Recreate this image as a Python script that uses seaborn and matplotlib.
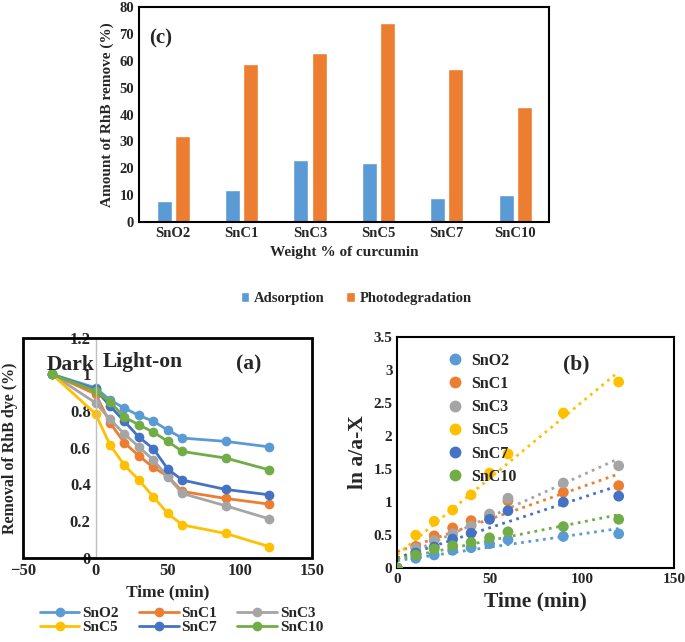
import numpy as np
import pandas as pd
import seaborn as sns
import matplotlib.pyplot as plt
from matplotlib.patches import Rectangle

# Datos de la figura
samples = ['SnO2', 'SnC1', 'SnC3', 'SnC5', 'SnC7', 'SnC10']
colors = ['#5B9BD5', '#ED7D31', '#A5A5A5', '#FFC000', '#4472C4', '#70AD47']

# (c) porcentaje removido
adsorption = [8, 12, 23, 22, 9, 10]
photodeg = [32, 59, 63, 74, 57, 43]

# (a) C/C0 vs tiempo
time_a = [-30, 0, 10, 20, 30, 40, 50, 60, 90, 120]
rem_SnO2 = [1.0, 0.927, 0.86, 0.816, 0.776, 0.745, 0.696, 0.653, 0.635, 0.605]
rem_SnC1 = [1.0, 0.893, 0.736, 0.627, 0.556, 0.493, 0.445, 0.362, 0.324, 0.293]
rem_SnC3 = [1.0, 0.845, 0.755, 0.675, 0.605, 0.533, 0.442, 0.351, 0.284, 0.213]
rem_SnC5 = [1.0, 0.785, 0.615, 0.505, 0.424, 0.333, 0.242, 0.18, 0.133, 0.062]
rem_SnC7 = [1.0, 0.918, 0.827, 0.744, 0.658, 0.595, 0.484, 0.424, 0.373, 0.344]
rem_SnC10 = [1.0, 0.91, 0.85, 0.767, 0.725, 0.685, 0.635, 0.58, 0.544, 0.48]

# (b) ln a/(a-x) vs tiempo
time_b = [0, 10, 20, 30, 40, 50, 60, 90, 120]
ln_SnO2 = [0, 0.15, 0.2, 0.27, 0.31, 0.37, 0.43, 0.48, 0.52]
ln_SnC1 = [0, 0.33, 0.49, 0.61, 0.72, 0.8, 1.02, 1.15, 1.25]
ln_SnC3 = [0, 0.30, 0.42, 0.52, 0.64, 0.82, 1.06, 1.29, 1.55]
ln_SnC5 = [0, 0.5, 0.71, 0.88, 1.11, 1.44, 1.73, 2.35, 2.82]
ln_SnC7 = [0, 0.23, 0.32, 0.44, 0.53, 0.74, 0.87, 1.0, 1.09]
ln_SnC10 = [0, 0.2, 0.29, 0.34, 0.39, 0.46, 0.55, 0.63, 0.74]

rem_all = [rem_SnO2, rem_SnC1, rem_SnC3, rem_SnC5, rem_SnC7, rem_SnC10]
ln_all = [ln_SnO2, ln_SnC1, ln_SnC3, ln_SnC5, ln_SnC7, ln_SnC10]

sns.set_style('white')
plt.rcParams['font.family'] = ['Liberation Serif', 'DejaVu Serif']
plt.rcParams['font.weight'] = 'bold'
plt.rcParams['axes.labelweight'] = 'bold'

fig = plt.figure(figsize=(6.85, 6.42), dpi=100)
pal = dict(zip(samples, colors))

# ---------- (c) barras ----------
axc = fig.add_axes([0.203, 0.654, 0.599, 0.335])
dfc = pd.DataFrame({
    'sample': samples * 2,
    'val': adsorption + photodeg,
    'kind': ['Adsorption'] * 6 + ['Photodegradation'] * 6,
})
sns.barplot(data=dfc, x='sample', y='val', hue='kind', palette=['#5B9BD5', '#ED7D31'],
            width=0.53, gap=0.17, ax=axc, saturation=1)
axc.set_ylim(0, 80)
axc.set_xlim(-0.5, 5.5)
axc.set_yticks(range(0, 81, 10))
axc.set_xlabel('Weight % of curcumin', fontsize=11)
axc.set_ylabel('Amount of RhB remove (%)', fontsize=11)
axc.tick_params(labelsize=10.5, length=0)
axc.text(0.025, 0.83, '(c)', transform=axc.transAxes, fontsize=15, fontweight='bold')
for s in axc.spines.values():
    s.set_color('black')
    s.set_linewidth(1.5)
axc.legend(loc='center', bbox_to_anchor=(0.52, 0.535), bbox_transform=fig.transFigure,
           ncol=2, frameon=False, fontsize=10.5, handlelength=0.6, handleheight=0.6,
           handletextpad=0.3, columnspacing=1.5)

# ---------- (a) lineas ----------
axa = fig.add_axes([0.034, 0.131, 0.422, 0.343])
dfa = pd.DataFrame({
    'time': time_a * 6,
    'val': sum(rem_all, []),
    'sample': [s for s in samples for _ in time_a],
})
sns.lineplot(data=dfa, x='time', y='val', hue='sample', hue_order=samples, palette=pal,
             marker='o', markersize=7, markeredgewidth=0, linewidth=2, ax=axa)
axa.set_xlim(-50, 150)
axa.set_ylim(0, 1.2)
axa.set_xticks([-50, 0, 50, 100, 150])
axa.set_yticks([0, 0.2, 0.4, 0.6, 0.8, 1, 1.2])
axa.set_yticklabels(['0', '0.2', '0.4', '0.6', '0.8', '1', '1.2'])
axa.tick_params(labelsize=12, length=0)
axa.set_xlabel('Time (min)', fontsize=12.5)
axa.set_ylabel('Removal of RhB dye (%)', fontsize=11.5)
axa.yaxis.set_label_coords(-0.02, 0.5)
for k in ['top', 'right', 'bottom']:
    axa.spines[k].set_visible(False)
axa.spines['left'].set_position(('data', 0))
axa.spines['left'].set_color('#BFBFBF')
axa.spines['left'].set_linewidth(1)
axa.add_patch(Rectangle((0, 0), 1, 1, transform=axa.transAxes, fill=False,
                        lw=2, ec='black', clip_on=False, zorder=5))
axa.text(-34, 1.025, 'Dark', fontsize=15.5, fontweight='bold')
axa.text(5, 1.04, 'Light-on', fontsize=15.5, fontweight='bold')
axa.text(97, 1.025, '(a)', fontsize=15.5, fontweight='bold')
h, l = axa.get_legend_handles_labels()
order = [0, 3, 1, 4, 2, 5]
axa.legend([h[i] for i in order], [l[i] for i in order], loc='center',
           bbox_to_anchor=(0.265, 0.034), bbox_transform=fig.transFigure,
           ncol=3, frameon=False, fontsize=11, handlelength=2.6, handletextpad=0.2,
           columnspacing=1.3, labelspacing=0.0)

# ---------- (b) cinetica ----------
axb = fig.add_axes([0.580, 0.115, 0.404, 0.360])
dfb = pd.DataFrame({
    'time': time_b * 6,
    'val': sum(ln_all, []),
    'sample': [s for s in samples for _ in time_b],
})
for s in samples:
    sub = dfb[dfb['sample'] == s]
    sns.regplot(data=sub, x='time', y='val', scatter=False, ci=None, color=pal[s],
                line_kws={'linestyle': ':', 'linewidth': 2}, ax=axb)
sns.scatterplot(data=dfb, x='time', y='val', hue='sample', hue_order=samples, palette=pal,
                s=60, edgecolor='none', ax=axb, zorder=3)
axb.set_xlim(0, 150)
axb.set_ylim(0, 3.5)
axb.set_xticks([0, 50, 100, 150])
axb.set_yticks([0, 0.5, 1, 1.5, 2, 2.5, 3, 3.5])
axb.set_yticklabels(['0', '0.5', '1', '1.5', '2', '2.5', '3', '3.5'])
axb.tick_params(labelsize=11, length=0)
axb.set_xlabel('Time (min)', fontsize=15.5)
axb.set_ylabel('ln a/a-X', fontsize=15.5)
for s in axb.spines.values():
    s.set_color('black')
    s.set_linewidth(1.5)
axb.text(0.6, 0.86, '(b)', transform=axb.transAxes, fontsize=15.5, fontweight='bold')
axb.legend(loc='upper left', bbox_to_anchor=(0.11, 0.98), frameon=False, fontsize=11.5,
           handletextpad=0.0, labelspacing=0.45, borderpad=0.2, markerscale=1.1)

fig.savefig('out.png', dpi=100)
